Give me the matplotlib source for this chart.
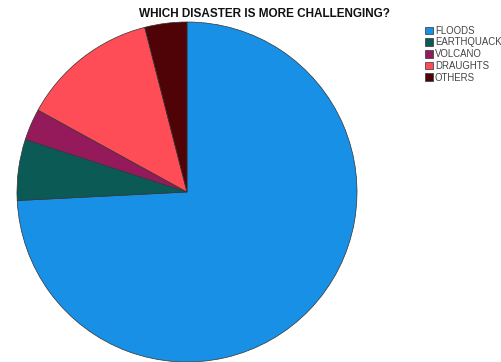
import matplotlib.pyplot as plt

# survey answers, percent of respondents
labels = ['FLOODS', 'EARTHQUACK', 'VOLCANO', 'DRAUGHTS', 'OTHERS']
shares = [74.2, 5.8, 3.0, 13.0, 4.0]
colors = ['#1790e6', '#0c5a56', '#951a5b', '#ff4d57', '#4f0306']

fig = plt.figure(figsize=(5.02, 3.62), dpi=100)
ax = fig.add_axes([17 / 502, 0, 340 / 502, 340 / 362])

wedges, _ = ax.pie(shares, colors=colors, startangle=90, counterclock=False,
                   wedgeprops=dict(edgecolor='#333333', linewidth=0.5))
ax.set_xlim(-1.0, 1.0)
ax.set_ylim(-1.0, 1.0)
ax.set_aspect('equal')

fig.text(264 / 502, 1 - 14 / 362, 'WHICH DISASTER IS MORE CHALLENGING?',
         ha='center', va='center', fontsize=8.5, fontweight='bold',
         family='Liberation Sans', color='#111111')

leg = fig.legend(wedges, labels, loc='upper left', bbox_to_anchor=(418 / 502, 1 - 19 / 362),
                 frameon=False, handlelength=0.85, handleheight=0.85,
                 handletextpad=0.2, labelspacing=0.18, borderpad=0.2,
                 prop=dict(family='Liberation Sans', size=6.9))
for t in leg.get_texts():
    t.set_color('#444444')

fig.savefig('out.png', dpi=100)
